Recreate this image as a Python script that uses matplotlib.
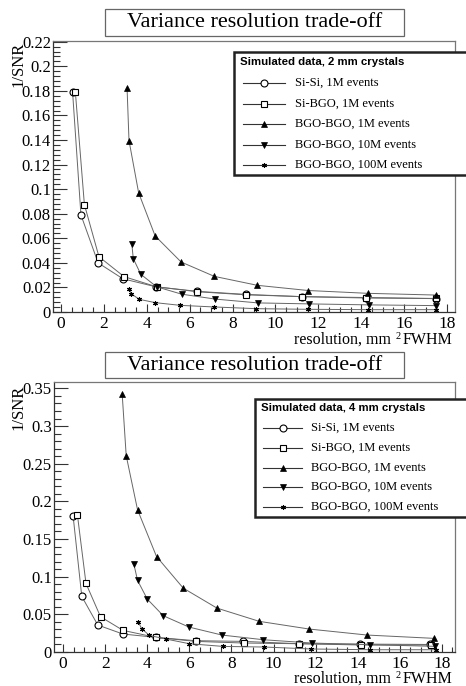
import matplotlib
matplotlib.use("Agg")
import matplotlib.pyplot as plt
from matplotlib.lines import Line2D
from matplotlib.patches import Rectangle
from matplotlib.ticker import MultipleLocator, FuncFormatter

title = "Variance resolution trade-off"
xlabel_main = "resolution, mm"
xlabel_sup = "2"
xlabel_tail = "FWHM"
ylabel_text = "1/SNR"
series_labels = ["Si-Si, 1M events", "Si-BGO, 1M events", "BGO-BGO, 1M events",
                 "BGO-BGO, 10M events", "BGO-BGO, 100M events"]
legend_titles = ["Simulated data, 2 mm crystals", "Simulated data, 4 mm crystals"]

# ---- 2 mm crystals ----
x2_sisi = [0.54, 0.93, 1.73, 2.89, 4.43, 6.36, 8.63, 11.23, 14.2, 17.5]
y2_sisi = [0.179, 0.079, 0.040, 0.027, 0.0205, 0.0168, 0.0143, 0.0125, 0.0114, 0.0109]
x2_sibgo = [0.67, 1.09, 1.77, 2.94, 4.46, 6.36, 8.63, 11.23, 14.2, 17.5]
y2_sibgo = [0.179, 0.0875, 0.045, 0.0288, 0.0205, 0.0165, 0.0140, 0.0125, 0.0118, 0.0110]
x2_b1 = [3.08, 3.17, 3.62, 4.39, 5.6, 7.15, 9.16, 11.52, 14.3, 17.48]
y2_b1 = [0.1825, 0.1396, 0.097, 0.0619, 0.0407, 0.029, 0.0217, 0.0175, 0.0152, 0.0138]
x2_b10 = [3.3, 3.37, 3.72, 4.46, 5.63, 7.2, 9.18, 11.57, 14.34, 17.48]
y2_b10 = [0.0557, 0.0435, 0.0307, 0.0205, 0.0145, 0.0105, 0.0074, 0.0066, 0.0058, 0.0052]
x2_b100 = [3.19, 3.27, 3.65, 4.4, 5.57, 7.15, 9.11, 11.52, 14.3, 17.48]
y2_b100 = [0.019, 0.0149, 0.0103, 0.0076, 0.0054, 0.0041, 0.0027, 0.0022, 0.0019, 0.0019]

# ---- 4 mm crystals ----
x4_sisi = [0.48, 0.89, 1.65, 2.84, 4.41, 6.3, 8.56, 11.21, 14.11, 17.44]
y4_sisi = [0.180, 0.0738, 0.0358, 0.0239, 0.0194, 0.0150, 0.0141, 0.0110, 0.0105, 0.0100]
x4_sibgo = [0.68, 1.09, 1.78, 2.85, 4.41, 6.3, 8.6, 11.21, 14.16, 17.47]
y4_sibgo = [0.1825, 0.091, 0.0468, 0.0287, 0.0194, 0.0141, 0.0119, 0.0110, 0.0093, 0.0093]
x4_b1 = [2.81, 3.0, 3.54, 4.44, 5.71, 7.31, 9.32, 11.69, 14.45, 17.63]
y4_b1 = [0.342, 0.2607, 0.1887, 0.1268, 0.0848, 0.0583, 0.0407, 0.0305, 0.0225, 0.0181]
x4_b10 = [3.36, 3.54, 4.0, 4.76, 5.98, 7.55, 9.51, 11.81, 14.59, 17.68]
y4_b10 = [0.1171, 0.095, 0.0703, 0.0482, 0.0331, 0.0225, 0.0163, 0.0119, 0.0097, 0.0075]
x4_b100 = [3.58, 3.74, 4.1, 4.89, 6.0, 7.61, 9.56, 11.8, 14.6, 17.7]
y4_b100 = [0.0393, 0.0309, 0.022, 0.0172, 0.011, 0.0074, 0.0066, 0.004, 0.003, 0.003]

panels = [
    dict(xs=[x2_sisi, x2_sibgo, x2_b1, x2_b10, x2_b100],
         ys=[y2_sisi, y2_sibgo, y2_b1, y2_b10, y2_b100],
         legend=legend_titles[0]),
    dict(xs=[x4_sisi, x4_sibgo, x4_b1, x4_b10, x4_b100],
         ys=[y4_sisi, y4_sibgo, y4_b1, y4_b10, y4_b100],
         legend=legend_titles[1]),
]

W, H = 466, 686
fig = plt.figure(figsize=(W / 100, H / 100), dpi=100)
serif = "Liberation Serif"
sans = "Liberation Sans"

styles = [
    dict(marker="o", mfc="white", mec="black", ms=5, mew=0.8),
    dict(marker="s", mfc="white", mec="black", ms=5, mew=0.8),
    dict(marker="^", mfc="black", mec="black", ms=4.5, mew=0.5),
    dict(marker="v", mfc="black", mec="black", ms=5, mew=0.5),
    dict(marker=(6, 2, 0), mfc="black", mec="black", ms=3.5, mew=0.8),
]
line_color = "#666666"

layout = [
    dict(ax=(53, 41, 455, 312), xlim=(-0.373, 18.37), ylim=(0, 0.2206), ymaj=0.02, ymin=0.004,
         tbox=(105, 9, 404, 36), lbox=(234, 52, 480, 175), lhead=62, lrows=[83, 104, 124, 145, 165],
         lline=(243, 285), ltext=295, xlab_y=340, ylab_top=42),
    dict(ax=(54, 382, 455, 652), xlim=(-0.43, 18.62), ylim=(0, 0.3585), ymaj=0.05, ymin=0.01,
         tbox=(105, 352, 404, 378), lbox=(255, 399, 480, 517), lhead=408, lrows=[428, 448, 468, 487, 507],
         lline=(263, 302), ltext=311, xlab_y=679, ylab_top=385),
]


def fx(px):
    return px / W


def fy(py):
    return 1 - py / H


def fmt(v, pos):
    s = ("%.3f" % v).rstrip("0").rstrip(".")
    return "0" if abs(v) < 1e-9 else s


for p, L in zip(panels, layout):
    l, t, r, b = L["ax"]
    ax = fig.add_axes([fx(l), fy(b), (r - l) / W, (b - t) / H])
    for xs, ys, st in zip(p["xs"], p["ys"], styles):
        ax.plot(xs, ys, color=line_color, lw=0.7, **st)
    ax.set_xlim(*L["xlim"])
    ax.set_ylim(*L["ylim"])
    ax.xaxis.set_major_locator(MultipleLocator(2))
    ax.xaxis.set_minor_locator(MultipleLocator(0.5))
    ax.yaxis.set_major_locator(MultipleLocator(L["ymaj"]))
    ax.yaxis.set_minor_locator(MultipleLocator(L["ymin"]))
    ax.yaxis.set_major_formatter(FuncFormatter(fmt))
    ax.xaxis.set_major_formatter(FuncFormatter(fmt))
    ax.tick_params(axis="both", which="both", direction="in", top=False, right=False,
                   color="#333333", width=0.8)
    ax.tick_params(axis="x", which="major", length=5.5, labelsize=12.5, pad=3)
    ax.tick_params(axis="x", which="minor", length=3.3)
    ax.tick_params(axis="y", which="major", length=10, labelsize=12, pad=1.5)
    ax.tick_params(axis="y", which="minor", length=5)
    for lab in ax.get_xticklabels() + ax.get_yticklabels():
        lab.set_fontfamily(serif)
    for s in ["top", "right"]:
        ax.spines[s].set_color("#777777")
    for s in ["left", "bottom"]:
        ax.spines[s].set_color("#333333")
    for s in ax.spines.values():
        s.set_linewidth(0.9)

    # title box
    tl, tt, tr, tb = L["tbox"]
    fig.add_artist(Rectangle((fx(tl), fy(tb)), (tr - tl) / W, (tb - tt) / H,
                             transform=fig.transFigure, facecolor="white",
                             edgecolor="#666666", lw=0.9))
    fig.text(fx((tl + tr) / 2), fy((tt + tb) / 2), title, ha="center", va="center",
             fontsize=16, family=serif)

    # x axis label (right aligned, with separate raised "2")
    xr = 452
    fig.text(fx(xr), fy(L["xlab_y"]), xlabel_tail, ha="right", va="center",
             fontsize=11.5, family=serif)
    fig.text(fx(398), fy(L["xlab_y"] - 3), xlabel_sup, ha="center", va="center",
             fontsize=7.5, family=serif)
    fig.text(fx(391), fy(L["xlab_y"]), xlabel_main, ha="right", va="center",
             fontsize=11.5, family=serif)
    fig.text(fx(18), fy(L["ylab_top"]), ylabel_text, ha="center", va="top",
             rotation=90, fontsize=12, family=serif)

    # legend box
    ll, lt, lr, lb = L["lbox"]
    fig.add_artist(Rectangle((fx(ll), fy(lb)), (lr - ll) / W, (lb - lt) / H,
                             transform=fig.transFigure, facecolor="white",
                             edgecolor="#222222", lw=1.8, clip_on=False))
    fig.text(fx(ll + 6), fy(L["lhead"]), p["legend"], ha="left", va="center",
             fontsize=8.2, family=sans, weight="bold")
    x0, x1 = L["lline"]
    for row, lab, st in zip(L["lrows"], series_labels, styles):
        fig.add_artist(Line2D([fx(x0), fx((x0 + x1) / 2), fx(x1)], [fy(row)] * 3,
                              transform=fig.transFigure, color="#333333", lw=0.8,
                              markevery=[1], **st))
        fig.text(fx(L["ltext"]), fy(row), lab, ha="left", va="center",
                 fontsize=9, family=serif)

fig.savefig("out.png", dpi=100)
